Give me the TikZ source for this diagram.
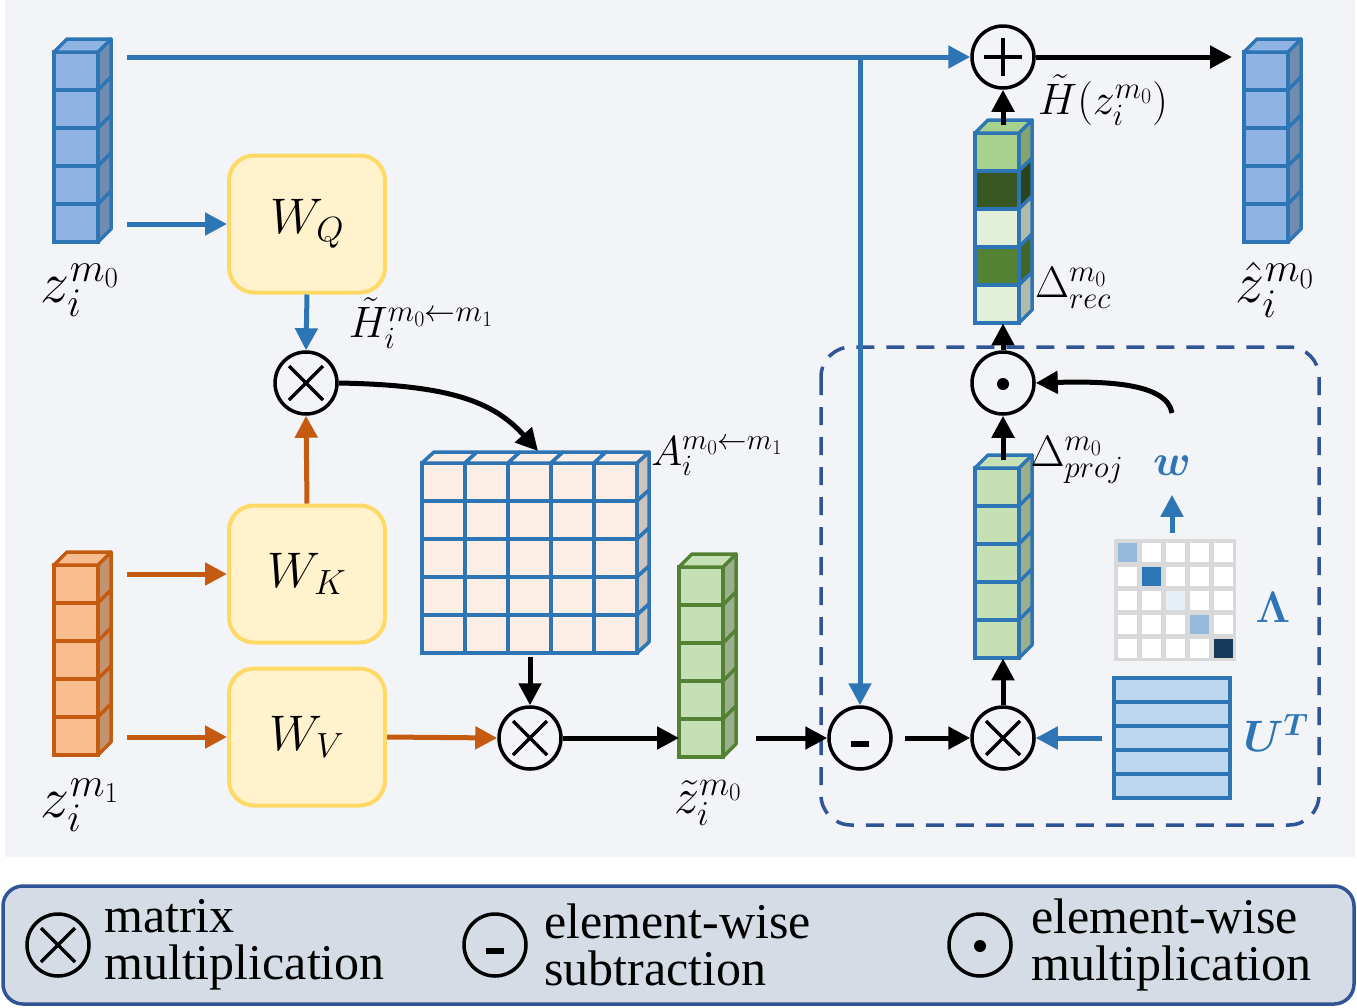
\RequirePackage{fix-cm}
\documentclass[tikz,border=0pt]{standalone}
\usepackage{bm}
\usepackage[no-math]{fontspec}
\setmainfont{Liberation Serif}
\usepackage{tikz}
\usetikzlibrary{positioning}
\usetikzlibrary{arrows.meta, shapes}

\definecolor{bblue}{HTML}{2E75B6}
\definecolor{lblue}{HTML}{8FB4E3}
\definecolor{dorange}{HTML}{C55A11}
\definecolor{lorange}{HTML}{F8BD8E}
\definecolor{dgreen}{HTML}{548235}
\definecolor{lgreen}{HTML}{C5E0B4}
\definecolor{g1}{HTML}{A9D18E}
\definecolor{g2}{HTML}{385723}
\definecolor{g3}{HTML}{E2F0D9}
\definecolor{wfill}{HTML}{FFF2CC}
\definecolor{wline}{HTML}{FFD966}
\definecolor{peach}{HTML}{FCEEE5}
\definecolor{peachside}{HTML}{CFC4BC}
\definecolor{navy}{HTML}{2F5597}
\definecolor{bgray}{HTML}{F3F4F7}
\definecolor{legfill}{HTML}{D6DCE5}
\definecolor{utfill}{HTML}{BDD7EE}

\tikzstyle{arrow} = [line width=5pt, -{Triangle[length=22pt,width=22pt]}]
\tikzstyle{barrow} = [arrow, bblue]
\tikzstyle{oarrow} = [arrow, dorange]
\tikzstyle{wbox} = [draw=wline, fill=wfill, line width=4pt, rounded corners=25pt, minimum width=156pt, minimum height=137pt, font=\fontsize{50}{50}\selectfont]
\tikzstyle{op} = [draw, circle, line width=3.5pt, minimum size=62pt, inner sep=0pt, fill=bgray]
\tikzstyle{lab} = [inner sep=0pt, font=\fontsize{44}{44}\selectfont]
\tikzstyle{biglab} = [inner sep=0pt, font=\fontsize{58}{58}\selectfont]

% column of cubes: name, left x, top y, line colour, top colour, cell colours
\newcommand{\cubecol}[6]{%
  \foreach \cc [count=\k from 0] in {#6} {
    \filldraw[fill=\cc, draw=#4, line width=3.5pt] (#2,#3+\k*38) rectangle ++(44,38);
    \filldraw[fill=\cc!78!black, draw=#4, line width=3.5pt, line join=round] (#2+44,#3+\k*38) -- ++(13,-13) -- ++(0,38) -- ++(-13,13) -- cycle;
  }
  \filldraw[fill=#5, draw=#4, line width=3.5pt, line join=round] (#2,#3) -- ++(13,-13) -- ++(44,0) -- ++(-13,13) -- cycle;
  \node[inner sep=0pt, minimum width=44pt, minimum height=190pt, anchor=north west] (#1) at (#2,#3) {};
}

\begin{document}
\begin{tikzpicture}[
    x=1pt, y=-1pt,
    mul/.style = {op, path picture={
        \draw[black, line width=3.5pt] ([shift={(-17pt,-17pt)}]path picture bounding box.center) -- ([shift={(17pt,17pt)}]path picture bounding box.center)
                                ([shift={(-17pt,17pt)}]path picture bounding box.center) -- ([shift={(17pt,-17pt)}]path picture bounding box.center);}},
    add/.style = {op, path picture={
        \draw[black, line width=4.5pt] ([xshift=-19pt]path picture bounding box.center) -- ([xshift=19pt]path picture bounding box.center)
                                ([yshift=-19pt]path picture bounding box.center) -- ([yshift=19pt]path picture bounding box.center);}},
    sub/.style = {op, path picture={
        \fill[black] ([shift={(-9pt,-9pt)}]path picture bounding box.center) rectangle ([shift={(9pt,-3pt)}]path picture bounding box.center);}},
    had/.style = {op, path picture={
        \fill[black] ([yshift=-1pt]path picture bounding box.center) circle (6pt);}}
  ]
  \useasboundingbox (0,0) rectangle (1357,1007);
  \fill[bgray] (5,0) rectangle (1355,857);

  % dashed projection block
  \draw[navy, line width=3.5pt, dash pattern=on 18pt off 12pt, rounded corners=30pt] (821,347) rectangle (1319,825);

  % vectors
  \cubecol{z0}{54}{52}{bblue}{lblue}{lblue,lblue,lblue,lblue,lblue}
  \cubecol{z1}{54}{565}{dorange}{lorange}{lorange,lorange,lorange,lorange,lorange}
  \cubecol{ztil}{679}{567}{dgreen}{lgreen}{lgreen,lgreen,lgreen,lgreen,lgreen}
  \cubecol{dproj}{975}{468}{bblue}{lgreen}{lgreen,lgreen,lgreen,lgreen,lgreen}
  \cubecol{drec}{975}{133}{bblue}{g1}{g1,g2,g3,dgreen,g3}
  \cubecol{zhat}{1244}{52}{bblue}{lblue}{lblue,lblue,lblue,lblue,lblue}

  % attention matrix
  \foreach \r in {0,...,4} {
    \foreach \s in {0,...,4} {
      \filldraw[fill=peach, draw=bblue, line width=3.5pt] (422+\s*43,463+\r*38) rectangle ++(43,38);
    }
    \filldraw[fill=peachside, draw=bblue, line width=3.5pt, line join=round] (637,463+\r*38) -- ++(12,-11) -- ++(0,38) -- ++(-12,11) -- cycle;
  }
  \foreach \s in {0,...,4}
    \filldraw[fill=peach, draw=bblue, line width=3.5pt, line join=round] (422+\s*43,463) -- ++(12,-11) -- ++(43,0) -- ++(-12,11) -- cycle;
  \node[inner sep=0pt, minimum width=215pt, minimum height=190pt, anchor=north west] (amat) at (422,463) {};
  \coordinate (atop) at (538,451);

  % eigenvalue matrix
  \fill[black!15] (1114,539) rectangle (1236,661);
  \foreach \r in {0,...,4}
    \foreach \s in {0,...,4}
      \fill[white] (1118+\s*24,543+\r*24) rectangle ++(19,19);
  \fill[bblue!50] (1118,543) rectangle ++(19,19);
  \fill[bblue] (1142,567) rectangle ++(19,19);
  \fill[bblue!12] (1166,591) rectangle ++(19,19);
  \fill[bblue!50] (1190,615) rectangle ++(19,19);
  \fill[bblue!50!black] (1214,639) rectangle ++(19,19);
  \node[inner sep=0pt, minimum size=122pt] (lam) at (1175,600) {};
  \coordinate (wstart) at (1172,413);

  % eigenvector matrix
  \foreach \r in {0,...,4}
    \filldraw[fill=utfill, draw=bblue, line width=3.5pt] (1114,678+\r*24) rectangle ++(116,24);
  \node[inner sep=0pt, minimum width=116pt, minimum height=120pt] (ut) at (1172,738) {};

  % weight boxes
  \node[wbox] (WQ) at (307,224) {$W_Q$};
  \node[wbox] (WK) at (307,574) {$W_K$};
  \node[wbox] (WV) at (307,737) {$W_V$};

  % operators
  \node[mul] (mul0) at (306,383) {};
  \node[mul] (mul1) at (530,738) {};
  \node[sub] (diff) at (860,738) {};
  \node[mul] (mul2) at (1003,738) {};
  \node[had] (prod) at (1003,383) {};
  \node[add] (sum) at (1003,57) {};

  % connections
  \draw[barrow, shorten <=29pt] (z0.east |- sum) -- (sum.west);
  \draw[barrow] (diff |- sum) -- (diff.north);
  \draw[barrow, shorten <=29pt] (z0.east |- WQ) -- (WQ.west);
  \draw[barrow] (WQ.south) -- (mul0.north);
  \draw[oarrow, shorten <=29pt] (z1.east |- WK) -- (WK.west);
  \draw[oarrow, shorten <=29pt] (z1.east |- WV) -- (WV.west);
  \draw[oarrow] (WK.north) -- (mul0.south);
  \draw[oarrow] (WV.east) -- (mul1.west);
  \draw[arrow] (mul0.east) .. controls +(110,2) and +(-45,-50) .. (atop);
  \draw[arrow, shorten <=4pt] (mul1 |- amat.south) -- (mul1.north);
  \draw[arrow] (mul1.east) -- (ztil.west |- mul1);
  \draw[arrow, shorten <=33pt] (ztil.east |- diff) -- (diff.west);
  \draw[arrow, shorten <=12pt] (diff.east) -- (mul2.west);
  \draw[barrow, shorten <=12pt] (ut.west |- mul2) -- (mul2.east);
  \draw[arrow] (mul2.north) -- (mul2 |- dproj.south);
  \draw[arrow, shorten <=8pt] (prod |- dproj.north) -- (prod.south);
  \draw[arrow] (wstart) .. controls +(-5,-30) and +(70,-2) .. (prod.east);
  \draw[barrow, shorten <=6pt] (lam.north -| wstart) -- ++(0,-44);
  \draw[arrow] (prod.north) -- (prod |- drec.south);
  \draw[arrow, shorten <=8pt] (sum |- drec.north) -- (sum.south);
  \draw[arrow, shorten >=12pt] (sum.east) -- (zhat.west |- sum);

  % Labels
  \node[biglab] (z0lab) at (80,290) {$z_i^{m_0}$};
  \node[biglab] (z1lab) at (80,805) {$z_i^{m_1}$};
  \node[lab] (hlab) at (421,323) {$\tilde{H}_i^{m_0\leftarrow m_1}$};
  \node[lab, font=\fontsize{42}{42}\selectfont] (alab) at (717,456) {$A_i^{m_0\leftarrow m_1}$};
  \node[lab, font=\fontsize{50}{50}\selectfont] (ztlab) at (708,803) {$\tilde{z}_i^{m_0}$};
  \node[lab] (htlab) at (1103,100) {$\tilde{H}{\left(z_i^{m_0}\right)}$};
  \node[lab] (drlab) at (1073,288) {$\Delta_{rec}^{m_0}$};
  \node[biglab] (zhlab) at (1275,290) {$\hat{z}_i^{m_0}$};
  \node[lab] (dplab) at (1077,460) {$\Delta_{proj}^{m_0}$};
  \node[lab, text=bblue] (wlab) at (1172,466) {$\bm{w}$};
  \node[lab, text=bblue] (lamlab) at (1273,607) {$\bm{\Lambda}$};
  \node[lab, text=bblue] (utlab) at (1276,733) {$\bm{U^T}$};

  % legend
  \draw[navy, fill=legfill, line width=3.5pt, rounded corners=20pt] (3,886) rectangle (1354,1004);
  \node[mul, fill=legfill] (lmul) at (58,945) {};
  \node[sub, fill=legfill] (lsub) at (495,945) {};
  \node[had, fill=legfill] (lhad) at (980,945) {};
  \begin{scope}[nodes = {align=left, inner sep=0pt, anchor=west, font=\fontsize{50}{47}\selectfont}]
    \node (tmul) at (104,945) {matrix\\multiplication};
    \node (tsub) at (544,945) {element-wise\\subtraction};
    \node (thad) at (1031,945) {element-wise\\multiplication};
  \end{scope}
\end{tikzpicture}
\end{document}
